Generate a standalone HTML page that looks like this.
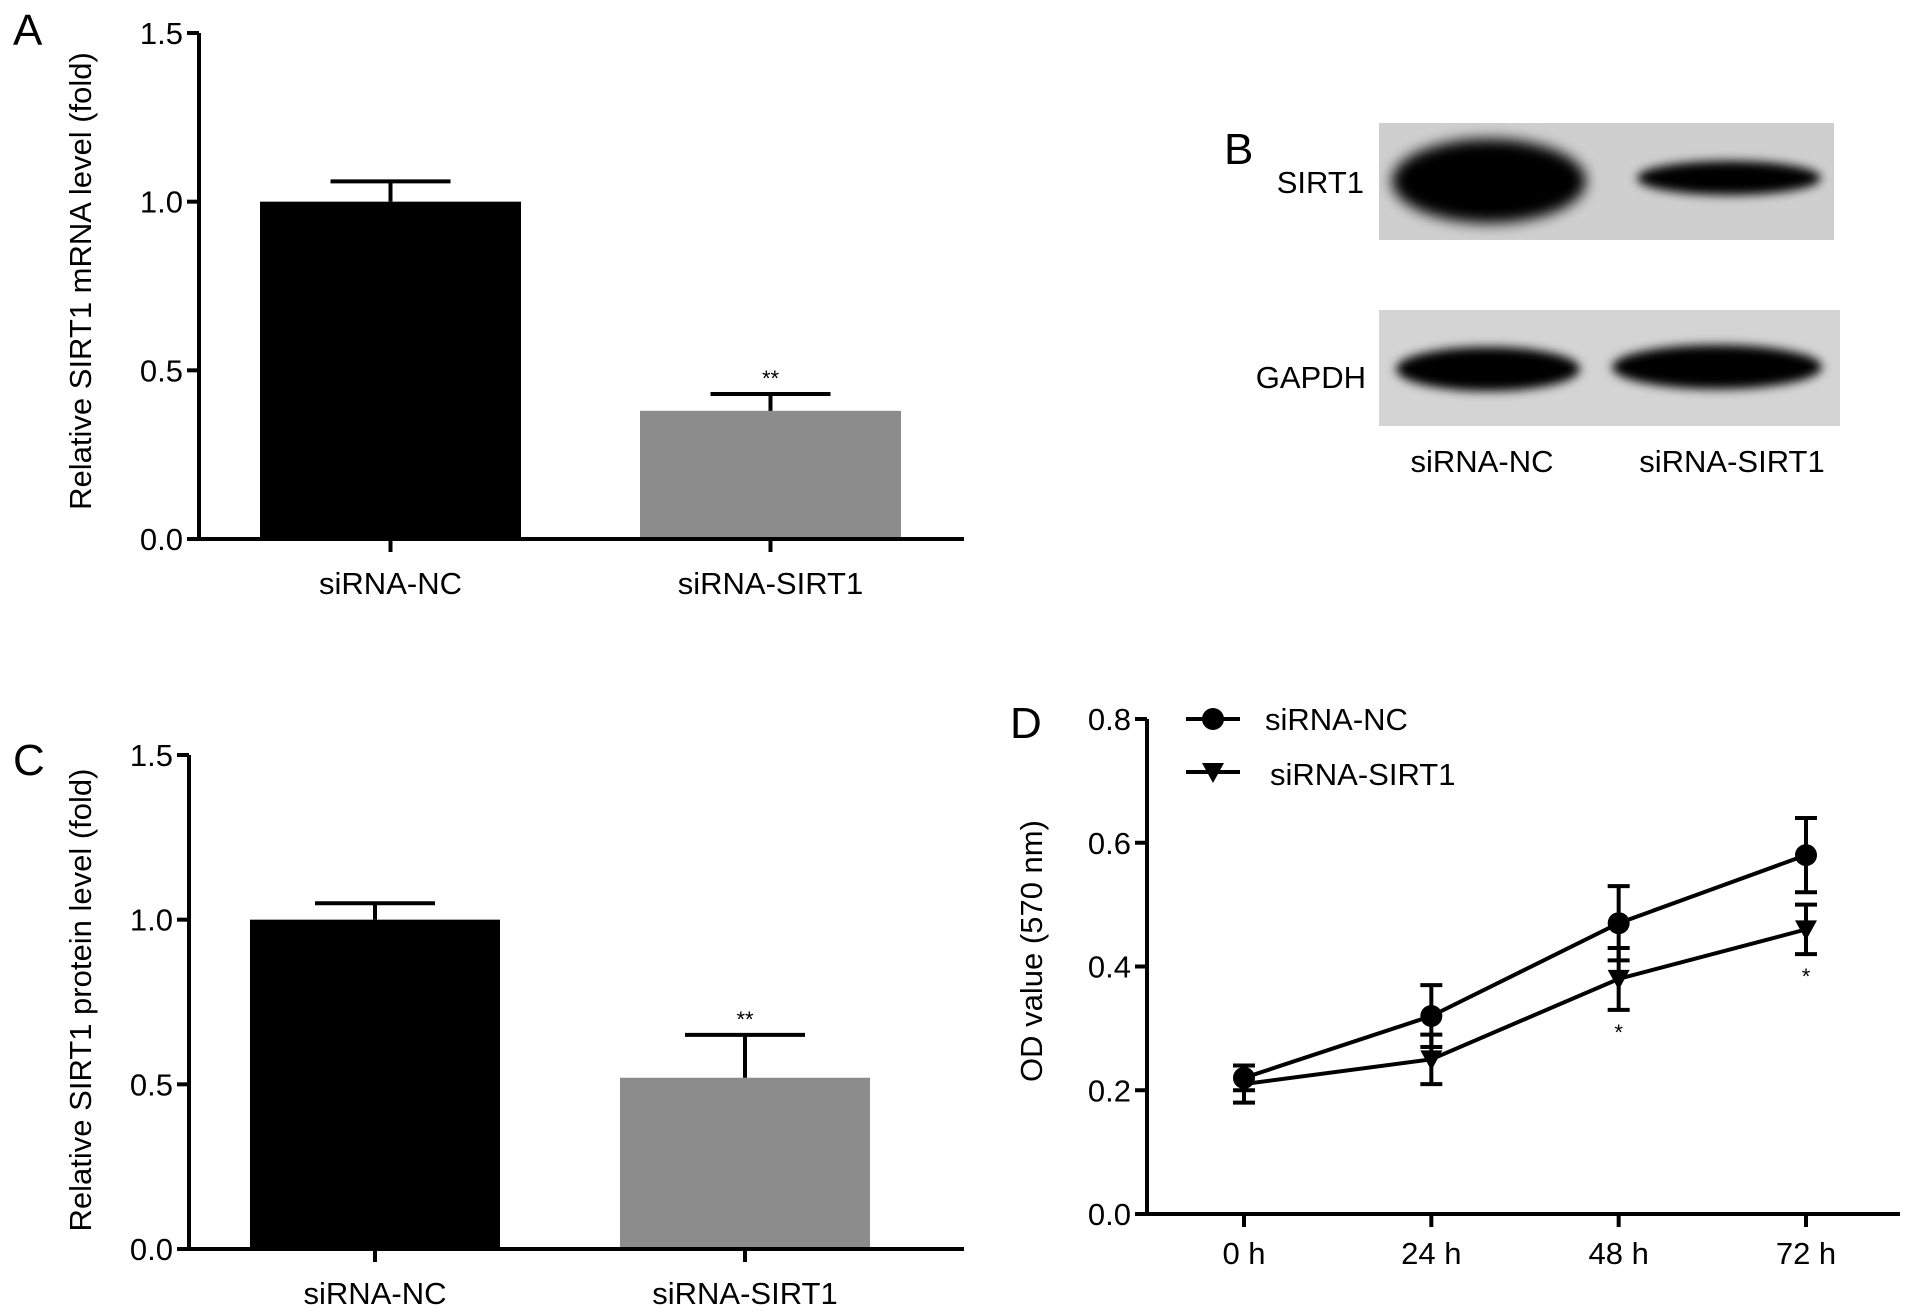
<!DOCTYPE html>
<html><head><meta charset="utf-8"><style>
html,body{margin:0;padding:0;background:#fff;}
svg{display:block;font-family:"Liberation Sans",Arial,sans-serif;}
</style></head><body>
<svg id="fig" width="1913" height="1316" viewBox="0 0 1913 1316">
<defs>
<filter id="blur" x="-20%" y="-50%" width="140%" height="200%"><feGaussianBlur stdDeviation="7"/></filter>
<filter id="blur2" x="-20%" y="-50%" width="140%" height="200%"><feGaussianBlur stdDeviation="5"/></filter>
</defs>
<g id="pa"></g>
<g id="pc"></g>
<g id="pd"></g>
<g id="pb">
  <text x="1224" y="164" font-size="44">B</text>
  <rect x="1379" y="123" width="455" height="117" fill="#cfcfcf"/>
  <ellipse cx="1489" cy="181" rx="97" ry="42" fill="#000" filter="url(#blur)"/>
  <ellipse cx="1729" cy="178" rx="92" ry="17" fill="#000" filter="url(#blur2)"/>
  <rect x="1379" y="310" width="461" height="116" fill="#d4d4d4"/>
  <ellipse cx="1488" cy="369" rx="92" ry="22" fill="#000" filter="url(#blur2)"/>
  <ellipse cx="1717" cy="367" rx="105" ry="22" fill="#000" filter="url(#blur2)"/>
  <text x="1364" y="193" font-size="31" text-anchor="end">SIRT1</text>
  <text x="1366" y="388" font-size="31" text-anchor="end">GAPDH</text>
  <text x="1482" y="472" font-size="31" text-anchor="middle">siRNA-NC</text>
  <text x="1732" y="472" font-size="31" text-anchor="middle">siRNA-SIRT1</text>
</g>
</svg>
<script>
const barCategories = ["siRNA-NC", "siRNA-SIRT1"];
const mrnaValues = [1.0, 0.38];
const mrnaErrors = [0.06, 0.05];
const proteinValues = [1.0, 0.52];
const proteinErrors = [0.05, 0.13];
const barTicks = [0.0, 0.5, 1.0, 1.5];
const barTickLabels = ["0.0", "0.5", "1.0", "1.5"];
const barColors = ["#000000", "#8c8c8c"];
const odTimes = ["0 h", "24 h", "48 h", "72 h"];
const ncValues = [0.22, 0.32, 0.47, 0.58];
const ncErrors = [0.02, 0.05, 0.06, 0.06];
const sirtValues = [0.21, 0.25, 0.38, 0.46];
const sirtErrors = [0.03, 0.04, 0.05, 0.04];
const sigMarks = ["", "", "*", "*"];
const odTicks = [0.0, 0.2, 0.4, 0.6, 0.8];
const odTickLabels = ["0.0", "0.2", "0.4", "0.6", "0.8"];

const NS = "http://www.w3.org/2000/svg";
function mk(parent, tag, attrs, text) {
  const e = document.createElementNS(NS, tag);
  for (const k in attrs) e.setAttribute(k, attrs[k]);
  if (text !== undefined) e.textContent = text;
  parent.appendChild(e);
  return e;
}

function barChart(g, cfg) {
  const y = v => cfg.y0 - (v / 1.5) * (cfg.y0 - cfg.y1);
  const label = mk(g, "text", {x: cfg.lx, y: cfg.ly, "font-size": 44});
  label.textContent = cfg.letter;
  
  
  cfg.values.forEach((v, i) => {
    const xl = cfg.barX[i], w = cfg.barW;
    const r = mk(g, "rect", {x: xl, y: y(v), width: w, height: cfg.y0 - y(v), fill: barColors[i]});
    
    
    const cx = xl + w / 2, top = y(v + cfg.errors[i]);
    const eb = mk(g, "path", {d: `M${cx},${y(v)}V${top}M${cx-60},${top}H${cx+60}`, stroke: "#000", "stroke-width": 4, fill: "none"});
    
    
    if (i === 1) {
      const s = mk(g, "text", {x: cx, y: top - 8, "font-size": 22, "text-anchor": "middle"}, "**");
      
      
    }
    const t = mk(g, "path", {d: `M${cx},${cfg.y0}V${cfg.y0+13}`, stroke: "#000", "stroke-width": 4});
    
    
    const tl = mk(g, "text", {x: cx, y: cfg.y0 + 55, "font-size": 31, "text-anchor": "middle"}, barCategories[i]);
    
    
  });
  const ax = mk(g, "path", {d: `M${cfg.ax},${cfg.y1}V${cfg.y0}H${cfg.xend}`, stroke: "#000", "stroke-width": 4, fill: "none"});
  
  
  barTicks.forEach((v, i) => {
    const tk = mk(g, "path", {d: `M${cfg.ax-12},${y(v)}H${cfg.ax}`, stroke: "#000", "stroke-width": 4});
    
    
    const tl = mk(g, "text", {x: cfg.ax - 16, y: y(v) + 11, "font-size": 31, "text-anchor": "end"}, barTickLabels[i]);
    
    
  });
  const yt = mk(g, "text", {x: 0, y: 0, "font-size": 31, "text-anchor": "middle", transform: `translate(${cfg.tx},${cfg.ty}) rotate(-90)`}, cfg.title);
  
  
}

barChart(document.getElementById("pa"), {letter: "A", lx: 13, ly: 45, ax: 199, y0: 539, y1: 33, xend: 964,
  barX: [260, 640], barW: 261, values: mrnaValues, errors: mrnaErrors,
  tx: 91, ty: 281, title: "Relative SIRT1 mRNA level (fold)"});
barChart(document.getElementById("pc"), {letter: "C", lx: 13, ly: 775, ax: 189, y0: 1249, y1: 755, xend: 964,
  barX: [250, 620], barW: 250, values: proteinValues, errors: proteinErrors,
  tx: 91, ty: 1000, title: "Relative SIRT1 protein level (fold)"});

(function () {
  const g = document.getElementById("pd");
  const ax = 1147, y0 = 1214, y1 = 719, xend = 1900;
  const xs = [1244, 1431, 1619, 1806];
  const x = i => xs[0] + i * (xs[3] - xs[0]) / (odTimes.length - 1);
  const y = v => y0 - (v / 0.8) * (y0 - y1);
  const lab = mk(g, "text", {x: 1010, y: 738, "font-size": 44}, "D");
  
  
  const axes = mk(g, "path", {d: `M${ax},${y1}V${y0}H${xend}`, stroke: "#000", "stroke-width": 4, fill: "none"});
  
  
  odTicks.forEach((v, i) => {
    const tk = mk(g, "path", {d: `M${ax-12},${y(v)}H${ax}`, stroke: "#000", "stroke-width": 4});
    
    
    const tl = mk(g, "text", {x: ax - 16, y: y(v) + 11, "font-size": 31, "text-anchor": "end"}, odTickLabels[i]);
    
    
  });
  odTimes.forEach((t, i) => {
    const tk = mk(g, "path", {d: `M${x(i)},${y0}V${y0+13}`, stroke: "#000", "stroke-width": 4});
    
    
    const tl = mk(g, "text", {x: x(i), y: y0 + 50, "font-size": 31, "text-anchor": "middle"}, t);
    
    
  });
  const yt = mk(g, "text", {x: 0, y: 0, "font-size": 31, "text-anchor": "middle", transform: "translate(1042,951) rotate(-90)"}, "OD value (570 nm)");
  
  
  function series(vals, errs, name, marker) {
    const line = mk(g, "polyline", {points: vals.map((v, i) => `${x(i)},${y(v)}`).join(" "), stroke: "#000", "stroke-width": 4, fill: "none"});
    
    
    vals.forEach((v, i) => {
      const cx = x(i), a = y(v + errs[i]), b = y(v - errs[i]);
      const eb = mk(g, "path", {d: `M${cx},${a}V${b}M${cx-11},${a}H${cx+11}M${cx-11},${b}H${cx+11}`, stroke: "#000", "stroke-width": 4, fill: "none"});
      
      
      const m = marker(cx, y(v));
      
      
    });
  }
  const circle = (cx, cy) => mk(g, "circle", {cx: cx, cy: cy, r: 11, fill: "#000"});
  const tri = (cx, cy) => mk(g, "path", {d: `M${cx-11},${cy-9}H${cx+11}L${cx},${cy+11}Z`, fill: "#000"});
  series(ncValues, ncErrors, "sirna-nc", circle);
  series(sirtValues, sirtErrors, "sirna-sirt1", tri);
  sigMarks.forEach((s, i) => {
    if (!s) return;
    const t = mk(g, "text", {x: x(i), y: y(sirtValues[i] - sirtErrors[i]) + 30, "font-size": 22, "text-anchor": "middle"}, s);
    
    
  });
  const l1 = mk(g, "path", {d: "M1186,719H1240", stroke: "#000", "stroke-width": 4});
  
  
  const m1 = circle(1213, 719);
  
  
  const t1 = mk(g, "text", {x: 1265, y: 730, "font-size": 31}, "siRNA-NC");
  
  
  const l2 = mk(g, "path", {d: "M1186,772H1240", stroke: "#000", "stroke-width": 4});
  
  
  const m2 = tri(1213, 772);
  
  
  const t2 = mk(g, "text", {x: 1270, y: 785, "font-size": 31}, "siRNA-SIRT1");
  
  
})();
</script>
</body></html>
